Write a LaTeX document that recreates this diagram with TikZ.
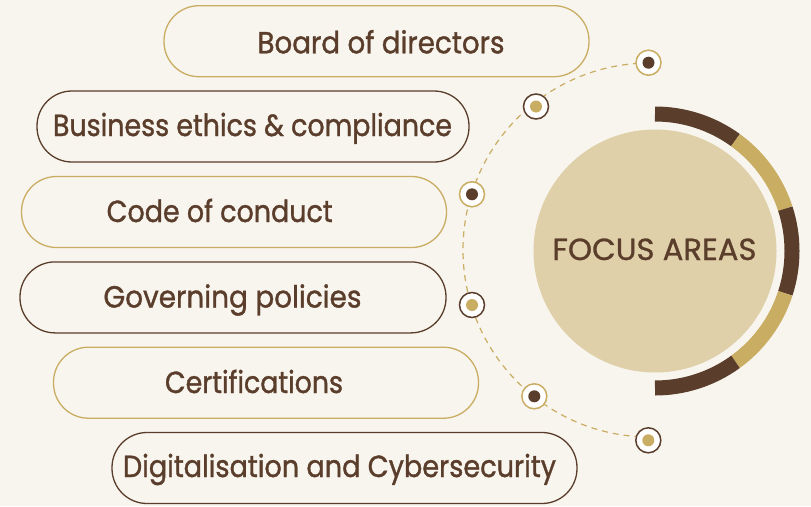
\documentclass[tikz,border=0pt]{standalone}
\usepackage{fontspec}
\setmainfont{Poppins}[FakeBold=1.2]
\newfontfamily\focusfont{Poppins}[FakeBold=0.8]
\usepackage{graphicx}
\definecolor{bg}{HTML}{F8F5EE}
\definecolor{brownc}{HTML}{5A3D2B}
\definecolor{goldc}{HTML}{C9AD62}
\definecolor{circfill}{HTML}{DFD0A9}
\newcommand\fitw[2]{\resizebox{#1}{\height}{#2}}
\begin{document}
\begin{tikzpicture}[x=1pt,y=-1pt,
  pill/.style={rectangle, rounded corners=35pt, line width=1.3pt, fill=bg, inner sep=0pt},
  lbl/.style={anchor=base, text=brownc, inner sep=0pt, font=\fontsize{30.5}{36}\selectfont},
  dotring/.style={circle, fill=white, line width=1.5pt, minimum size=25pt, inner sep=0pt},
  dotcore/.style={circle, minimum size=12pt, inner sep=0pt},
  ringseg/.style={line width=15pt},
  dasharc/.style={draw=goldc, line width=1.2pt, dash pattern=on 6pt off 5pt}
]
\useasboundingbox (0,0) rectangle (811,506);
\fill[bg] (0,0) rectangle (811,506);

% dashed arc
\draw[dasharc] (650,250) ++(-90:187) arc (-90:-270:187);

% pills
\node[pill, draw=goldc, minimum width=425pt, minimum height=71pt] (p1) at (376.5,41.2) {};
\node[pill, draw=brownc, minimum width=432pt, minimum height=71pt] (p2) at (253,126.5) {};
\node[pill, draw=goldc, minimum width=425pt, minimum height=71pt] (p3) at (234,212) {};
\node[pill, draw=brownc, minimum width=426pt, minimum height=71pt] (p4) at (233,297.4) {};
\node[pill, draw=goldc, minimum width=425pt, minimum height=71pt] (p5) at (266,382.7) {};
\node[pill, draw=brownc, minimum width=465pt, minimum height=71pt] (p6) at (344.5,468) {};

% labels
\node[lbl] (t1) at (381,53.3) {\fitw{247pt}{Board of directors}};
\node[lbl] (t2) at (252.5,136) {\fitw{399pt}{Business ethics \& compliance}};
\node[lbl] (t3) at (219.7,222) {\fitw{226pt}{Code of conduct}};
\node[lbl] (t4) at (232.5,307.5) {\fitw{258pt}{Governing policies}};
\node[lbl] (t5) at (254,393) {\fitw{178pt}{Certifications}};
\node[lbl] (t6) at (339.5,477) {\fitw{433pt}{Digitalisation and Cybersecurity}};

% central circle
\node[circle, fill=circfill, minimum size=243pt, inner sep=0pt] (focus) at (655,251) {};
\node[lbl, font=\focusfont\fontsize{30.5}{36}\selectfont] (ft) at (654.5,260) {\fitw{204pt}{FOCUS AREAS}};

% segmented ring
\draw[ringseg, brownc] (655,251) ++(-90:137) arc (-90:-54:137);
\draw[ringseg, goldc]  (655,251) ++(-54:137) arc (-54:-18:137);
\draw[ringseg, brownc] (655,251) ++(-18:137) arc (-18:18:137);
\draw[ringseg, goldc]  (655,251) ++(18:137) arc (18:54:137);
\draw[ringseg, brownc] (655,251) ++(54:137) arc (54:90:137);

% dots
\node[dotring, draw=goldc]  (d1) at (648.5,62.7) {};
\node[dotcore, fill=brownc] (c1) at (d1) {};
\node[dotring, draw=brownc] (d2) at (536,106.5) {};
\node[dotcore, fill=goldc]  (c2) at (d2) {};
\node[dotring, draw=goldc]  (d3) at (472,194.3) {};
\node[dotcore, fill=brownc] (c3) at (d3) {};
\node[dotring, draw=brownc] (d4) at (472,305) {};
\node[dotcore, fill=goldc]  (c4) at (d4) {};
\node[dotring, draw=goldc]  (d5) at (534.3,396.3) {};
\node[dotcore, fill=brownc] (c5) at (d5) {};
\node[dotring, draw=brownc] (d6) at (648.3,440.3) {};
\node[dotcore, fill=goldc]  (c6) at (d6) {};
\end{tikzpicture}
\end{document}
